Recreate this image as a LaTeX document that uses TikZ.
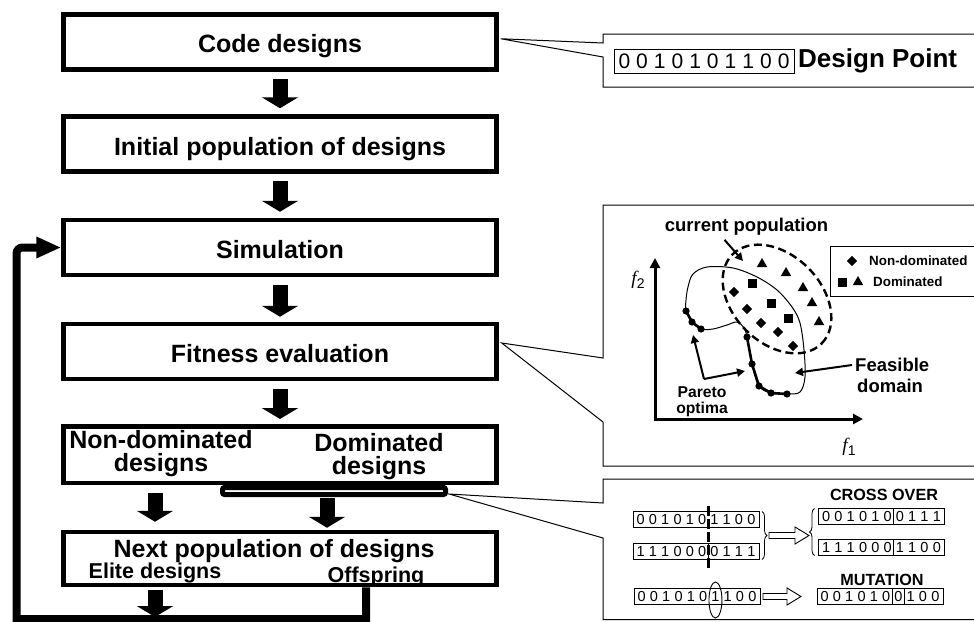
\documentclass[tikz,border=0pt]{standalone}
\usepackage{fontspec}
\setmainfont{Liberation Sans}
\newfontfamily\seriffam{Liberation Serif}
\usetikzlibrary{arrows.meta,calc,decorations.pathreplacing}

% fixed-pitch bit strings
\newlength\bitpitch
\setlength\bitpitch{12.3pt}
\makeatletter
\newcommand\bitrow[1]{\@tfor\bitchar:=#1\do{\makebox[\bitpitch]{\bitchar}}}
\makeatother

\tikzset{
  mainbox/.style={draw, line width=4.5pt, minimum width=433pt, minimum height=55pt,
    inner sep=0pt, font=\bfseries\fontsize{25}{25}\selectfont, text height=24pt, text depth=2pt},
  boxtext/.style={font=\bfseries\fontsize{25}{25}\selectfont, inner sep=0pt, anchor=base},
  subtext/.style={font=\bfseries\fontsize{21.5}{21.5}\selectfont, inner sep=0pt, anchor=base},
  blockarr/.style={line width=15pt, -{Triangle[width=36pt,length=11pt]}},
  loopline/.style={line width=8pt, -{Triangle[width=20pt,length=25pt]}},
  callout/.style={line width=1pt},
  bits/.style={draw, line width=0.9pt, outer sep=0pt, inner xsep=1.5pt, inner ysep=0pt,
    minimum height=16pt, font=\fontsize{14.5}{14.5}\selectfont},
  thinarr/.style={line width=2pt, -{Triangle[width=8pt,length=8pt]}},
  lbl/.style={font=\bfseries\fontsize{18.5}{18.5}\selectfont, inner sep=0pt},
  small/.style={font=\bfseries\fontsize{13.4}{13.4}\selectfont, inner sep=0pt},
  tri/.pic={\fill (0,-6) -- (5.3,3.2) -- (-5.3,3.2) -- cycle;},
  sq/.pic={\fill (-4.5,-4.5) rectangle (4.5,4.5);},
  dia/.pic={\fill (0,-5.2) -- (5.2,0) -- (0,5.2) -- (-5.2,0) -- cycle;},
  pdot/.pic={\fill (0,0) circle (3.6pt);},
}

\begin{document}
\begin{tikzpicture}[x=1pt,y=-1pt]
\useasboundingbox (0,0) rectangle (974,621);

% ---------------- flow chart ----------------
\node[mainbox] (code) at (280,41.75) {Code designs};
\node[mainbox] (init) at (280,144) {Initial population of designs};
\node[mainbox] (sim)  at (280,247.5) {Simulation};
\node[mainbox] (fit)  at (280,351.5) {Fitness evaluation};
\node[mainbox, minimum height=56.5pt] (split) at (280,454.5) {};
\node[mainbox, minimum height=53pt] (next) at (280,558.5) {};

\node[boxtext] (nd1) at (161,448) {Non-dominated};
\node[boxtext] (nd2) at (161,471.5) {designs};
\node[boxtext] (dm1) at (379,451) {Dominated};
\node[boxtext] (dm2) at (379,474.5) {designs};

\node[boxtext] (nxt) at (274,557) {Next population of designs};
\node[subtext] (elite) at (155,578) {Elite designs};
\node[subtext] (off) at (376,582) {Offspring};

% bracket under the dominated designs
\node[draw, line width=5pt, rounded corners=2pt, minimum width=223pt, minimum height=7pt,
  inner sep=0pt] (brk) at (334,491) {};

% block arrows
\draw[blockarr] ($(code.south)+(0,7.5)$) -- ($(init.north)+(0,-6)$);
\draw[blockarr] ($(init.south)+(0,7.5)$) -- ($(sim.north)+(0,-6)$);
\draw[blockarr] ($(sim.south)+(0,8)$) -- ($(fit.north)+(0,-5)$);
\draw[blockarr] ($(fit.south)+(0,8)$) -- ($(split.north)+(0,-5)$);
\draw[blockarr] ($(split.south -| elite)+(0,8)$) -- ($(next.north -| elite)+(0,-8)$);
\draw[blockarr] ($(brk.south)+(-7,1)$) -- ($(next.north)+(47,-2)$);

% feedback loop
\coordinate (lbr) at (366,619);
\coordinate (lbl) at (16.5,619);
\draw[blockarr] ($(next.south -| elite)+(0,3)$) -- ($(lbl -| elite)+(0,-2)$);
\draw[loopline] (next.south -| lbr) -- (lbr) -- (lbl) [rounded corners=6pt] -- (lbl |- sim.west) -- (sim.west);

% ---------------- callout panels ----------------
\coordinate (p1) at ($(code.east)+(2,-3)$);
\coordinate (p2) at ($(fit.east)+(3,-8.5)$);
\coordinate (p3) at ($(brk.south east)+(1,-3)$);

\draw[callout] (985,34) -- (603,34) -- (603,43) -- (p1) -- (603,57) -- (603,87) -- (985,87);
\draw[callout] (985,205) -- (603,205) -- (603,358) -- (p2) -- (603,422) -- (603,466) -- (985,466);
\draw[callout] (985,479) -- (603,479) -- (603,503) -- (p3) -- (603,538) -- (603,619.5) -- (985,619.5);

% design point
\node[bits, minimum height=24pt, font=\fontsize{21}{21}\selectfont] (dp) at (704,61)
  {\setlength\bitpitch{17.7pt}\bitrow{0010101100}};
\node[anchor=west, inner sep=0pt, font=\bfseries\fontsize{26}{26}\selectfont] (dpl) at (798,61) {Design Point};

% ---------------- Pareto sketch ----------------
\draw[line width=3pt, {Triangle[width=10pt,length=10pt]}-{Triangle[width=10pt,length=10pt]}]
  (655,258) -- (655,419) -- (863,419);
\node[inner sep=0pt] (f2) at (638,280) {{\seriffam\itshape\fontsize{19}{19}\selectfont f}\raisebox{-4pt}{\fontsize{14}{14}\selectfont 2}};
\node[inner sep=0pt] (f1) at (849,447) {{\seriffam\itshape\fontsize{19}{19}\selectfont f}\raisebox{-4pt}{\fontsize{14}{14}\selectfont 1}};

% feasible domain
\draw[line width=1pt] plot[smooth cycle, tension=0.55] coordinates {
  (686,311) (692,322) (701,329) (713,329) (727,325) (737,322) (744,328) (747,337)
  (752,364) (759,386) (771,393) (787,394) (800,392) (805,377) (804,350) (800,323)
  (792,307) (777,290) (757,277) (733,268) (707,267) (693,274) (688,287) (686,300)};
% Pareto front
\draw[line width=2.6pt, line join=round] (686,311) -- (692,322) -- (701,329);
\draw[line width=2.6pt, line join=round] (747,337) -- (752,364) -- (759,386) -- (771,393) -- (787,394);
\foreach \p in {(686,311),(692,322),(701,329),(747,337),(752,364),(759,386),(771,393),(787,394)}
  \pic at \p {pdot};

% current population
\draw[line width=2.4pt, dash pattern=on 8pt off 4.5pt, rotate around={-45:(777,299)}]
  (777,299) ellipse [x radius=63pt, y radius=44pt];
\foreach \p in {(762,264),(786,273),(803,288),(812,303),(819,322)} \pic at \p {tri};
\foreach \p in {(752,283),(771,303),(788,318)} \pic at \p {sq};
\foreach \p in {(734,292),(747,309),(761,323),(778,332),(793,346)} \pic at \p {dia};

\node[lbl] (cpop) at (746.5,227) {current population};
\draw[thinarr] ($(cpop.south)+(-22,4)$) -- (743,261);

\node[lbl, anchor=west] (feas1) at (855,365) {Feasible};
\node[lbl, anchor=west] (feas2) at (857,386) {domain};
\draw[thinarr] ($(feas1.west)+(-3,0)$) -- (795,373);

\node[font=\bfseries\fontsize{15.7}{15.7}\selectfont, inner sep=0pt] (par1) at (702,392) {Pareto};
\node[font=\bfseries\fontsize{15.7}{15.7}\selectfont, inner sep=0pt] (par2) at (702,409) {optima};
\coordinate (pv) at (704,379);
\draw[thinarr] (pv) -- (693,335);
\draw[thinarr] (pv) -- (745,371);

% legend
\draw[line width=1pt] (985,246) -- (830,246) -- (830,296) -- (985,296);
\pic at (852,261) {dia};
\node[small, anchor=west] (lg1) at (869,261) {Non-dominated};
\pic at (842,282) {sq};
\pic at (858,282) {tri};
\node[small, anchor=west] (lg2) at (873,282) {Dominated};

% ---------------- crossover and mutation ----------------
\node[font=\bfseries\fontsize{16.2}{16.2}\selectfont, inner sep=0pt] (cotitle) at (884,495) {CROSS OVER};
\node[font=\bfseries\fontsize{16.2}{16.2}\selectfont, inner sep=0pt] (mutitle) at (882,580) {MUTATION};

\node[bits] (xa) at (696,519.5) {\bitrow{0010101100}};
\node[bits] (xb) at (696,551.5) {\bitrow{1110000111}};
\node[bits] (ya) at (881.5,516.5) {\bitrow{0010100111}};
\node[bits] (yb) at (881.5,547.5) {\bitrow{1110001100}};
\node[bits] (ma) at (697,596.5) {\bitrow{0010101100}};
\node[bits] (mb) at (880,596.5) {\bitrow{0010100100}};

\foreach \n/\k in {xb/6, ya/6, yb/6, mb/6, mb/7}
  \draw[line width=0.9pt] ([xshift=1.5pt+\k*\bitpitch]\n.south west) -- ([xshift=1.5pt+\k*\bitpitch]\n.north west);

% cut position
\draw[line width=2.5pt, dash pattern=on 10pt off 3pt]
  ([xshift=1.5pt+6*\bitpitch, yshift=5.5pt]xa.north west) -- ([xshift=1.5pt+6*\bitpitch, yshift=-8.5pt]xb.south west);

% braces
\draw[line width=0.8pt, decorate, decoration={brace, amplitude=5pt}]
  ([xshift=3pt]xa.north east) -- ([xshift=3pt]xb.south east);
\draw[line width=0.8pt, decorate, decoration={brace, amplitude=5pt}]
  ([xshift=-4pt]yb.south west) -- ([xshift=-4pt]ya.north west);

% hollow arrows
\coordinate (ha) at ($(xa.east)!.5!(xb.east)+(10,0)$);
\draw[line width=0.9pt, fill=white] (ha) ++(0,-3) -- ++(26,0) -- ++(0,-5.5) -- ++(14,8.5)
  -- ++(-14,8.5) -- ++(0,-5.5) -- ++(-26,0) -- cycle;
\coordinate (hb) at ($(ma.east)+(3,0)$);
\draw[line width=0.9pt, fill=white] (hb) ++(0,-3) -- ++(24,0) -- ++(0,-5.5) -- ++(14,8.5)
  -- ++(-14,8.5) -- ++(0,-5.5) -- ++(-24,0) -- cycle;

% mutated bit
\draw[line width=0.9pt] ([xshift=1.5pt+6.5*\bitpitch, yshift=-3.5pt]ma.west) ellipse [x radius=6.5pt, y radius=18pt];

\end{tikzpicture}
\end{document}
